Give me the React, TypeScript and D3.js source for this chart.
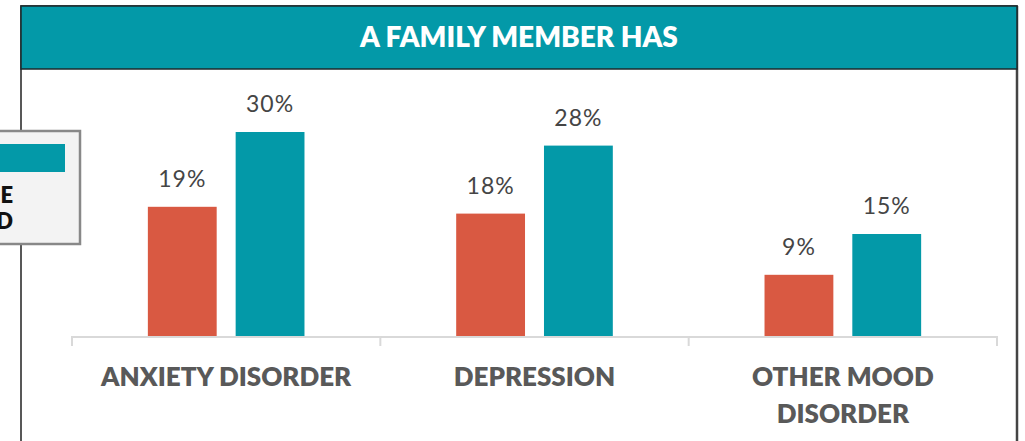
import * as d3 from "d3";
import { useEffect, useRef } from "react";

const categories = ["ANXIETY DISORDER", "DEPRESSION", "OTHER MOOD DISORDER"];
const categoryLines = [["ANXIETY DISORDER"], ["DEPRESSION"], ["OTHER MOOD", "DISORDER"]];
const seriesKeys = ["other", "family"];
const otherValues = [19, 18, 9];
const familyValues = [30, 28, 15];
const seriesColors = ["#d95942", "#0399a8"];
const title = "A FAMILY MEMBER HAS";
const legendLines = ["E", "D"];

const W = 1025;
const H = 441;

export default function App() {
  const svgRef = useRef(null);

  useEffect(() => {
    const svg = d3.select(svgRef.current);
    svg.selectAll("*").remove();

    const frame = { left: 21, right: 1017, top: 6, headerBottom: 69 };
    const plot = { left: 72, right: 997, base: 336, top: 132 };

    // outer frame + header
    svg.append("rect")
      .attr("x", frame.left)
      .attr("y", frame.top)
      .attr("width", frame.right - frame.left)
      .attr("height", H + 10)
      .attr("fill", "#fff")
      .attr("stroke", "#222")
      .attr("stroke-width", 1.5);
    svg.append("line")
      .attr("x1", frame.right).attr("x2", frame.right)
      .attr("y1", frame.top).attr("y2", H)
      .attr("stroke", "#444").attr("stroke-width", 2.5);
    svg.append("rect")
      .attr("x", frame.left)
      .attr("y", frame.top)
      .attr("width", frame.right - frame.left)
      .attr("height", frame.headerBottom - frame.top)
      .attr("fill", "#0399a8")
      .attr("stroke", "#1d2a2c")
      .attr("stroke-width", 1.5);
    svg.append("text")
      .attr("x", 519)
      .attr("y", 47)
      .attr("text-anchor", "middle")
      .attr("fill", "#fff")
      .style("font-family", "Lato")
      .style("font-weight", 800)
      .style("font-size", "28px")
      .text(title);

    const x = d3.scaleBand().domain(categories).range([plot.left, plot.right]).padding(0);
    const xs = d3.scaleBand()
      .domain(seriesKeys)
      .range([0, x.bandwidth()])
      .paddingInner(0.216)
      .paddingOuter(0.864);
    const y = d3.scaleLinear().domain([0, 30]).range([plot.base, plot.top]);

    const rows = categories.map((c, i) => ({
      cat: c,
      vals: [
        { key: seriesKeys[0], v: otherValues[i], color: seriesColors[0] },
        { key: seriesKeys[1], v: familyValues[i], color: seriesColors[1] },
      ],
    }));

    const groups = svg.selectAll(".cat")
      .data(rows)
      .join("g")
      .attr("class", "cat")
      .attr("transform", (d) => `translate(${x(d.cat)},0)`);

    groups.selectAll("rect")
      .data((d) => d.vals)
      .join("rect")
      .attr("x", (d) => xs(d.key))
      .attr("width", xs.bandwidth())
      .attr("y", (d) => y(d.v))
      .attr("height", (d) => y(0) - y(d.v))
      .attr("fill", (d) => d.color);

    groups.selectAll("text.val")
      .data((d) => d.vals)
      .join("text")
      .attr("class", "val")
      .attr("x", (d) => xs(d.key) + xs.bandwidth() / 2)
      .attr("y", (d) => y(d.v) - 20)
      .attr("text-anchor", "middle")
      .attr("fill", "#454545")
      .style("font-family", "Lato")
      .style("font-size", "23px")
      .style("letter-spacing", "1px")
      .text((d) => `${d.v}%`);

    // axis line with ticks at band edges
    const edges = categories.map((c) => x(c)).concat([plot.right]);
    svg.append("line")
      .attr("x1", plot.left).attr("x2", plot.right)
      .attr("y1", plot.base + 1).attr("y2", plot.base + 1)
      .attr("stroke", "#d9d9d9").attr("stroke-width", 2);
    svg.selectAll(".tick")
      .data(edges)
      .join("line")
      .attr("class", "tick")
      .attr("x1", (d) => d).attr("x2", (d) => d)
      .attr("y1", plot.base).attr("y2", plot.base + 10)
      .attr("stroke", "#d9d9d9").attr("stroke-width", 2);

    // category labels
    const labels = svg.selectAll(".lbl")
      .data(categories)
      .join("text")
      .attr("class", "lbl")
      .attr("text-anchor", "middle")
      .attr("fill", "#595959")
      .style("font-family", "Lato")
      .style("font-weight", 800)
      .style("font-size", "26px");
    labels.each(function (c, i) {
      d3.select(this).selectAll("tspan")
        .data(categoryLines[i])
        .join("tspan")
        .attr("x", x(c) + x.bandwidth() / 2)
        .attr("y", (_, j) => 386 + j * 37)
        .text((t) => t);
    });

    // legend box (cut off at left edge)
    const lg = svg.append("g");
    lg.append("rect")
      .attr("x", -20).attr("y", 131)
      .attr("width", 100).attr("height", 113)
      .attr("fill", "#f3f3f3")
      .attr("stroke", "#888").attr("stroke-width", 2.5);
    lg.append("rect")
      .attr("x", -20).attr("y", 144)
      .attr("width", 85).attr("height", 28)
      .attr("fill", seriesColors[1]);
    lg.selectAll("text")
      .data(legendLines)
      .join("text")
      .attr("x", 13)
      .attr("y", (_, i) => 203 + i * 26)
      .attr("text-anchor", "end")
      .attr("fill", "#111")
      .style("font-family", "Lato")
      .style("font-weight", 800)
      .style("font-size", "22px")
      .text((d) => d);
  }, []);

  return (
    <svg
      ref={svgRef}
      width={W}
      height={H}
      viewBox={`0 0 ${W} ${H}`}
      style={{ position: "fixed", left: 0, top: 0, display: "block", background: "#fff" }}
    />
  );
}
